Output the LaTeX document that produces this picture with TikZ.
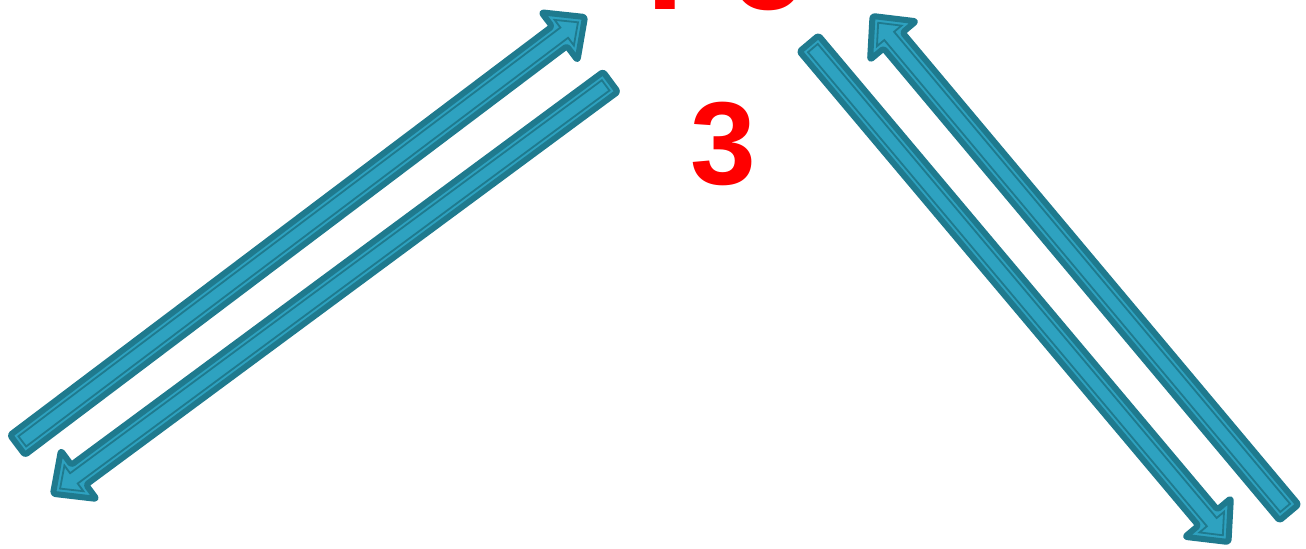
\documentclass[tikz,border=0pt]{standalone}
\usepackage{fontspec}
\setmainfont{Liberation Sans}
\usetikzlibrary{calc}
\definecolor{arrfill}{HTML}{2EA2C0}
\definecolor{arrdark}{HTML}{1F7A8E}
\definecolor{labred}{HTML}{FF0000}
\tikzset{
  arrowbody/.style={fill=arrfill, draw=arrdark, line width=3pt, line join=round, rounded corners=1.2pt},
  arrowline/.style={draw=arrdark, line width=0.9pt, line join=miter},
  biglabel/.style={text=labred, font=\bfseries, inner sep=0pt, anchor=base}
}
\newcommand\blockarrow[2]{%
  \path[arrowbody] ($(#1)!6.2pt!90:(#2)$) -- ($(#2)!16pt!(#1)!6.2pt!-90:(#1)$) -- ($(#2)!16pt!(#1)!15pt!-90:(#1)$) -- (#2) -- ($(#2)!16pt!(#1)!15pt!90:(#1)$) -- ($(#2)!16pt!(#1)!6.2pt!90:(#1)$) -- ($(#1)!6.2pt!-90:(#2)$) -- cycle;
  \path[arrowline] ($(#1)!3pt!(#2)!3.2pt!90:(#2)$) -- ($(#2)!13pt!(#1)!3.2pt!-90:(#1)$) -- ($(#2)!13pt!(#1)!8pt!-90:(#1)$) -- ($(#2)!4.4pt!(#1)$) -- ($(#2)!13pt!(#1)!8pt!90:(#1)$) -- ($(#2)!13pt!(#1)!3.2pt!90:(#1)$) -- ($(#1)!3pt!(#2)!3.2pt!-90:(#2)$) -- cycle;
}
\begin{document}
\begin{tikzpicture}[x=0.5pt,y=-0.5pt]
\useasboundingbox (0,0) rectangle (1306,548);
% arrow end points
\coordinate (a1t) at (17.5,445);
\coordinate (a1p) at (585,17);
\coordinate (a2t) at (610.5,81.8);
\coordinate (a2p) at (53,493.8);
\coordinate (a3t) at (809,43.5);
\coordinate (a3p) at (1228.5,542);
\coordinate (a4t) at (1289,512.5);
\coordinate (a4p) at (872.5,16);
\blockarrow{a1t}{a1p}
\blockarrow{a2t}{a2p}
\blockarrow{a3t}{a3p}
\blockarrow{a4t}{a4p}
% labels
\node[biglabel, font=\bfseries\fontsize{68}{72}\selectfont] (fe) at (726,9) {Fe};
\node[biglabel, font=\bfseries\fontsize{59}{63}\selectfont] (three) at (723.5,184) {3};
\end{tikzpicture}
\end{document}
